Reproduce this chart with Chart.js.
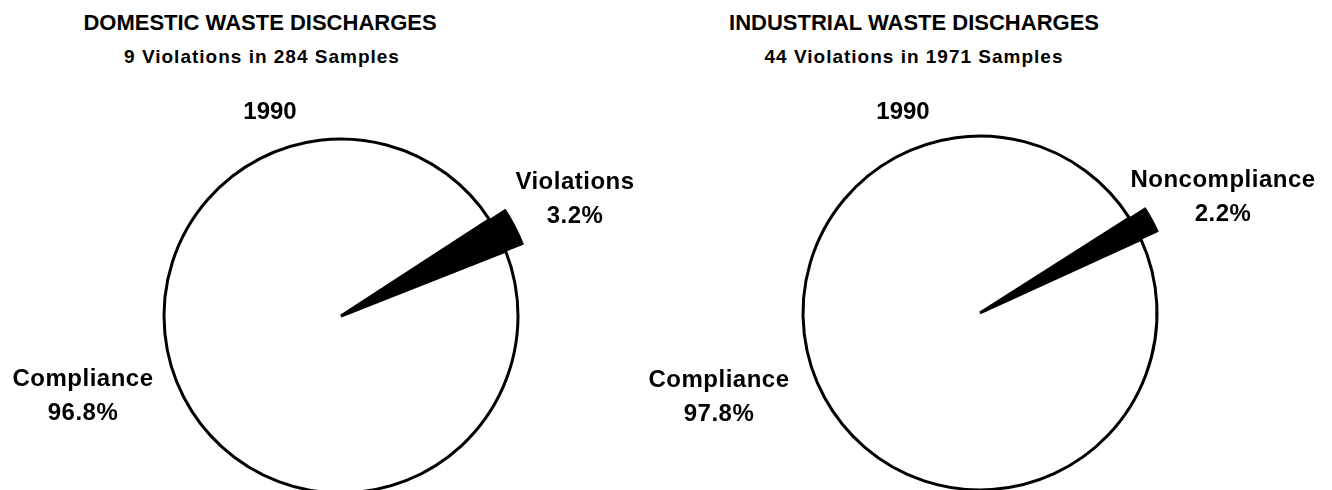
<!DOCTYPE html>
<html>
<head>
<meta charset="utf-8">
<title>Waste discharges compliance, 1990</title>
<script src="https://cdn.jsdelivr.net/npm/chart.js@4.4.1/dist/chart.umd.min.js"></script>
<style>
  html, body { margin: 0; padding: 0; background: #fff; }
  #page {
    position: relative;
    width: 1332px;
    height: 490px;
    overflow: hidden;
    font-family: "Liberation Sans", Arial, Helvetica, sans-serif;
    color: #000;
  }
  #page canvas { position: absolute; }
  .txt {
    position: absolute;
    transform: translateX(-50%);
    white-space: pre;
    text-align: center;
    font-weight: bold;
  }
  .txt--title { font-size: 22px; line-height: 22px; }
  .txt--sub { font-size: 19px; line-height: 19px; letter-spacing: 1px; }
  .txt--year { font-size: 24px; line-height: 24px; }
  .txt--slice { font-size: 24px; line-height: 34px; letter-spacing: 0.5px; }
</style>
</head>
<body>
<div id="page"></div>
<script>
// ---- data -------------------------------------------------------------
const chartTitles = ["DOMESTIC WASTE DISCHARGES", "INDUSTRIAL WASTE DISCHARGES"];
const chartSubtitles = ["9 Violations in 284 Samples", "44 Violations in 1971 Samples"];
const chartYears = ["1990", "1990"];

const domesticLabels = ["Violations", "Compliance"];
const domesticValues = [3.2, 96.8];

const industrialLabels = ["Noncompliance", "Compliance"];
const industrialValues = [2.2, 97.8];

// ---- layout (pixels) --------------------------------------------------
// pie centre, circle radius, exploded-wedge radius, start angle of the
// small slice (degrees clockwise from 12 o'clock), text anchors
const layout = [
  {
    cx: 341, cy: 316, r: 177, rOut: 196, rotation: 57,
    title: [260, 12], sub: [262, 47], year: [270, 99],
    slices: [[575, 164], [83, 361]],
  },
  {
    cx: 980, cy: 313, r: 177, rOut: 196, rotation: 57.5,
    title: [914, 12], sub: [914, 47], year: [903, 99],
    slices: [[1223, 162], [719, 362]],
  },
];

const page = document.getElementById("page");

function addText(cls, text, pos) {
  const el = document.createElement("div");
  el.className = "txt " + cls;
  el.textContent = text;
  el.style.left = pos[0] + "px";
  el.style.top = pos[1] + "px";
  page.appendChild(el);
}

// Two rings on one pie: the inner ring is the outlined circle, the thin
// outer ring only shows the black slice, so it pokes out past the rim.
function pieChart(lay, labels, values) {
  const size = 2 * (lay.rOut + 14);
  const canvas = document.createElement("canvas");
  canvas.width = size;
  canvas.height = size;
  canvas.style.left = lay.cx - size / 2 + "px";
  canvas.style.top = lay.cy - size / 2 + "px";
  page.appendChild(canvas);

  new Chart(canvas, {
    type: "pie",
    data: {
      labels,
      datasets: [
        {
          data: values,
          weight: lay.rOut - lay.r,
          backgroundColor: ["#000", "rgba(0,0,0,0)"],
          borderColor: ["#000", "rgba(0,0,0,0)"],
          borderWidth: [1, 0],
        },
        {
          data: values,
          weight: lay.r,
          backgroundColor: ["#000", "#fff"],
          borderColor: "#000",
          borderWidth: [1, 3],
        },
      ],
    },
    options: {
      responsive: false,
      animation: false,
      events: [],
      radius: lay.rOut,
      rotation: lay.rotation,
      layout: { padding: 0 },
      plugins: {
        legend: { display: false },
        tooltip: { enabled: false },
      },
    },
  });
}

const pieData = [
  [domesticLabels, domesticValues],
  [industrialLabels, industrialValues],
];

pieData.forEach(([labels, values], i) => {
  const lay = layout[i];
  pieChart(lay, labels, values);

  addText("txt--title", chartTitles[i], lay.title);
  addText("txt--sub", chartSubtitles[i], lay.sub);
  addText("txt--year", chartYears[i], lay.year);
  labels.forEach((label, j) => {
    addText("txt--slice", `${label}\n${values[j].toFixed(1)}%`, lay.slices[j]);
  });
});
</script>
</body>
</html>
